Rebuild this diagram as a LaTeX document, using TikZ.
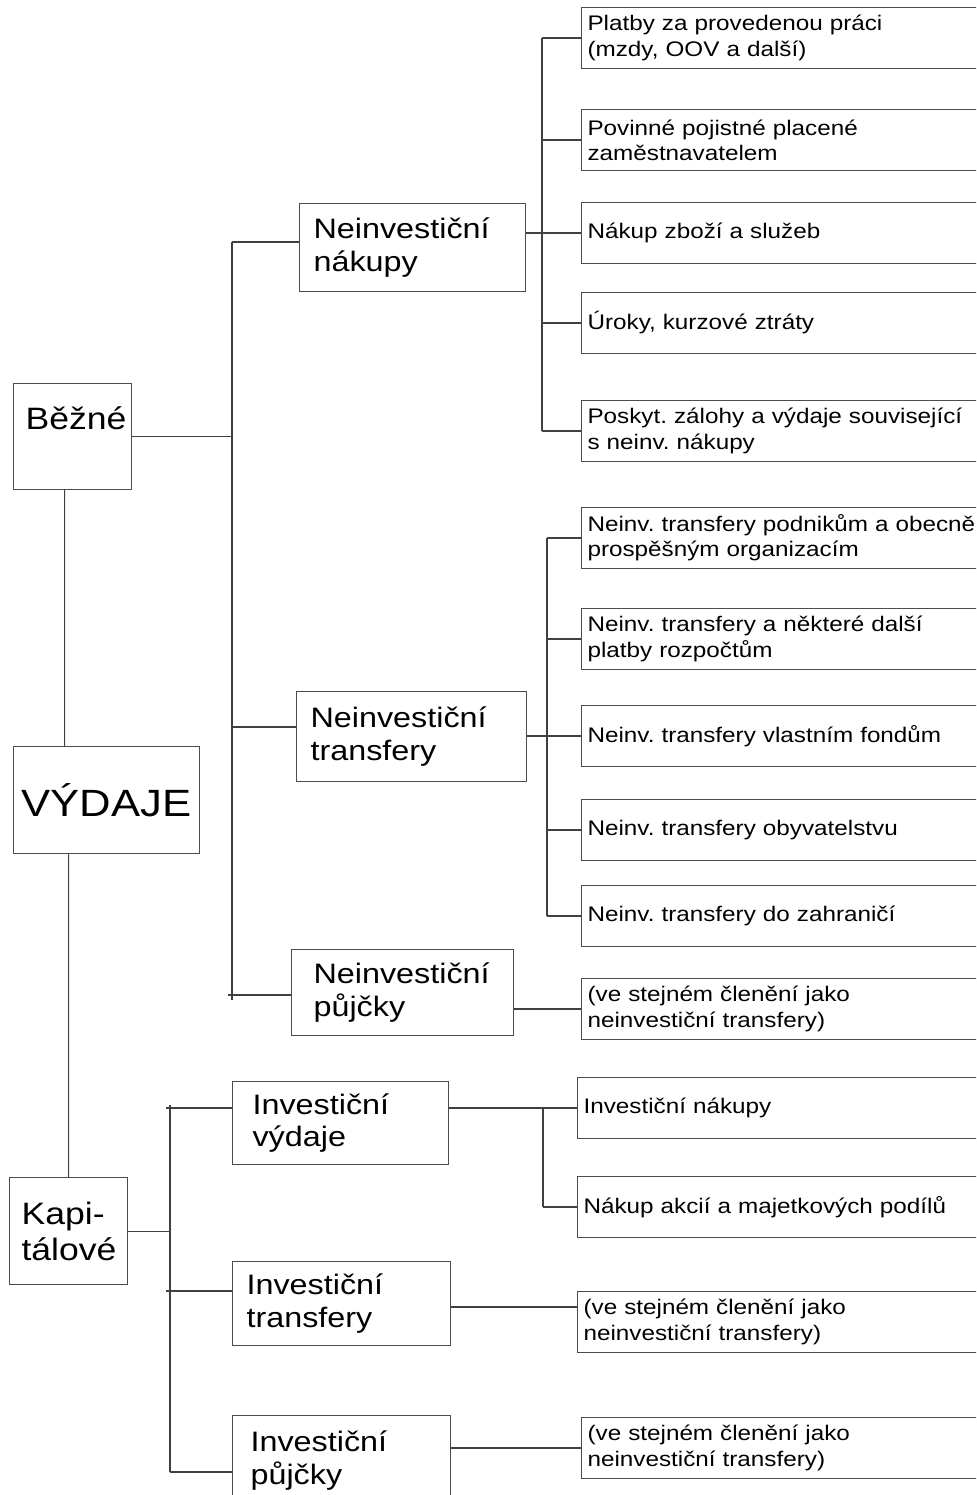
\documentclass[tikz,border=0pt]{standalone}
\usepackage{fontspec}
\setmainfont[FakeStretch=1.15]{Liberation Sans}
\frenchspacing
\tikzstyle{topbox} = [draw=black!70, line width=0.8pt, anchor=north west, align=left, inner xsep=0.3cm, font=\fontsize{22}{25.6}\selectfont]
\tikzstyle{midbox} = [draw=black!70, line width=0.8pt, anchor=north west, align=left, inner xsep=0.35cm, font=\fontsize{20}{23}\selectfont]
\tikzstyle{leaf} = [draw=black!70, line width=0.8pt, anchor=west, align=left, text width=10.3cm, inner xsep=0.15cm, minimum height=1.525cm, font=\fontsize{15}{18}\selectfont]
\tikzset{line/.style={draw=black!75, line width=0.8pt}}

\begin{document}
\begin{tikzpicture}[x=0.025cm, y=-0.025cm]
\useasboundingbox (0,0) rectangle (976,1495);
\clip (0,0) rectangle (976,1495);

% main boxes
\node (bezne) [topbox, text width=2.35cm, minimum height=2.65cm] at (13,383) {Běžné\\\phantom{B}};
\node (vydaje) [topbox, align=center, text width=4.45cm, inner xsep=0.1cm, minimum height=2.675cm, font=\fontsize{27}{30}\selectfont] at (13,746) {VÝDAJE};
\node (kap) [topbox, text width=2.35cm, minimum height=2.675cm] at (9,1177) {Kapi-\\tálové};

% second level
\node (nakupy) [midbox, text width=4.95cm, minimum height=2.2cm] at (299,203) {Neinvestiční\\nákupy};
\node (netransfery) [midbox, text width=5.05cm, minimum height=2.25cm] at (296,691) {Neinvestiční\\transfery};
\node (nepujcky) [midbox, text width=4.45cm, inner xsep=0.55cm, minimum height=2.15cm] at (291,949) {Neinvestiční\\půjčky};
\node (invvydaje) [midbox, text width=4.4cm, inner xsep=0.5cm, minimum height=2.075cm] at (232,1081) {Investiční\\výdaje};
\node (invtransfery) [midbox, text width=4.75cm, minimum height=2.1cm] at (232,1261) {Investiční\\transfery};
\node (invpujcky) [midbox, text width=4.55cm, inner xsep=0.45cm, minimum height=2.25cm] at (232,1415) {Investiční\\půjčky};

% leaves
\node (l1) [leaf] at (581,38) {Platby za provedenou práci\\(mzdy, OOV a další)};
\node (l2) [leaf] at (581,140) {Povinné pojistné placené\\zaměstnavatelem};
\node (l3) [leaf] at (581,233) {Nákup zboží a služeb};
\node (l4) [leaf] at (581,323) {Úroky, kurzové ztráty};
\node (l5) [leaf] at (581,431) {Poskyt. zálohy a výdaje související\\s neinv. nákupy};
\node (l6) [leaf] at (581,538) {Neinv. transfery podnikům a obecně\\prospěšným organizacím};
\node (l7) [leaf] at (581,639) {Neinv. transfery a některé další\\platby rozpočtům};
\node (l8) [leaf] at (581,736) {Neinv. transfery vlastním fondům};
\node (l9) [leaf] at (581,830) {Neinv. transfery obyvatelstvu};
\node (l10) [leaf] at (581,916) {Neinv. transfery do zahraničí};
\node (l11) [leaf] at (581,1009) {(ve stejném členění jako\\neinvestiční transfery)};
\node (l12) [leaf] at (577,1108) {Investiční nákupy};
\node (l13) [leaf] at (577,1207) {Nákup akcií a majetkových podílů};
\node (l14) [leaf] at (577,1322) {(ve stejném členění jako\\neinvestiční transfery)};
\node (l15) [leaf] at (581,1448) {(ve stejném členění jako\\neinvestiční transfery)};

% junctions
\coordinate (btop) at (232,242);
\coordinate (bbot) at (232,1000);
\coordinate (bj2) at (232,727);
\coordinate (bj3) at (228,995);
\coordinate (ktop) at (170,1105);
\coordinate (kbot) at (170,1472);
\coordinate (kj1) at (166,1108);
\coordinate (kj2) at (166,1291);
\coordinate (s1) at (542,0);
\coordinate (s2) at (547,0);
\coordinate (s3) at (543,0);
\coordinate (j14) at ([yshift=0.375cm]l14.west);

% connectors
\draw[line] ([xshift=-0.2cm]bezne.south) -- ([xshift=-1.05cm]vydaje.north);
\draw[line] ([xshift=-0.95cm]vydaje.south) -- (kap.north);

\draw[line] (btop) -- (bbot);
\draw[line] (btop) -- (nakupy.west |- btop);
\draw[line] (bezne.east) -- (bezne.east -| btop);
\draw[line] (bj2) -- (netransfery.west |- bj2);
\draw[line] (bj3) -- (nepujcky.west |- bj3);

\draw[line] (ktop) -- (kbot);
\draw[line] (kap.east) -- (kap.east -| ktop);
\draw[line] (kj1) -- (invvydaje.west |- kj1);
\draw[line] (kj2) -- (invtransfery.west |- kj2);
\draw[line] (kbot) -- (invpujcky.west |- kbot);

\draw[line] (l1.west -| s1) -- (l5.west -| s1);
\foreach \i in {1,2,4,5} \draw[line] (l\i.west) -- (l\i.west -| s1);
\draw[line] (nakupy.east |- l3.west) -- (l3.west);

\draw[line] (l6.west -| s2) -- (l10.west -| s2);
\foreach \i in {6,7,9,10} \draw[line] (l\i.west) -- (l\i.west -| s2);
\draw[line] (netransfery.east |- l8.west) -- (l8.west);
\draw[line] (nepujcky.east |- l11.west) -- (l11.west);

\draw[line] (l12.west -| s3) -- (l13.west -| s3);
\draw[line] (l13.west) -- (l13.west -| s3);
\draw[line] (invvydaje.east |- l12.west) -- (l12.west);
\draw[line] (invtransfery.east |- j14) -- (j14);
\draw[line] (invpujcky.east |- l15.west) -- (l15.west);
\end{tikzpicture}
\end{document}
